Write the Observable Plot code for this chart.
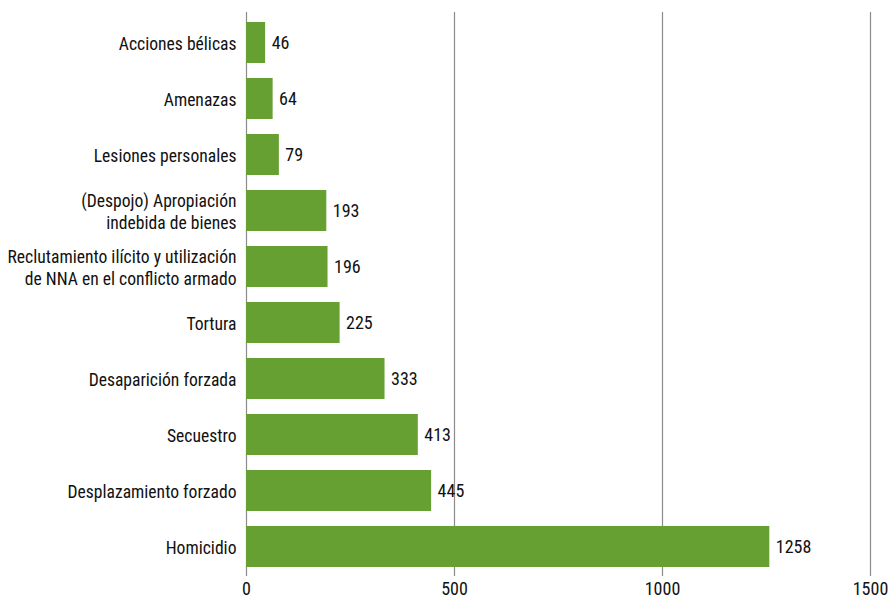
<!DOCTYPE html>
<html>
<head>
<meta charset="utf-8">
<script src="https://cdn.jsdelivr.net/npm/d3@7"></script>
<script src="https://cdn.jsdelivr.net/npm/@observablehq/plot@0.6"></script>
<style>
  html, body { margin: 0; padding: 0; background: #fff; }
  #chart svg { display: block; }
</style>
</head>
<body>
<div id="chart"></div>
<script>
const categories = [
  "Acciones bélicas",
  "Amenazas",
  "Lesiones personales",
  "(Despojo) Apropiación\nindebida de bienes",
  "Reclutamiento ilícito y utilización\nde NNA en el conflicto armado",
  "Tortura",
  "Desaparición forzada",
  "Secuestro",
  "Desplazamiento forzado",
  "Homicidio"
];
const values = [46, 64, 79, 193, 196, 225, 333, 413, 445, 1258];
const xTicks = [0, 500, 1000, 1500];

const data = categories.map((c, i) => ({category: c, value: values[i]}));
const font = "'Roboto Condensed', 'Liberation Sans Narrow', 'DejaVu Sans Condensed', 'Roboto', sans-serif";

const chart = Plot.plot({
  width: 889,
  height: 598,
  marginLeft: 246,
  marginRight: 19,
  marginTop: 12,
  marginBottom: 22,
  style: {fontFamily: font, fontSize: "17.6px", color: "#111", background: "#fff"},
  x: {domain: [0, 1500], ticks: xTicks, label: null},
  y: {domain: categories, paddingInner: 0.27, paddingOuter: 0.16, label: null},
  marks: [
    Plot.ruleX(xTicks, {stroke: "#8c8c8c", strokeWidth: 1.2}),
    Plot.barX(data, {y: "category", x: "value", fill: "#66a032"}),
    Plot.text(data, {y: "category", x: "value", text: d => String(d.value), textAnchor: "start", dx: 6, fontSize: 18, fill: "#111"}),
    Plot.axisY({tickSize: 0, tickPadding: 10, fontSize: 17.6, lineHeight: 1.27, fill: "#111"}),
    Plot.axisX({ticks: xTicks, tickSize: 0, tickPadding: 6, fontSize: 18, fill: "#111", tickFormat: d => String(d)})
  ]
});
document.getElementById("chart").appendChild(chart);
</script>
</body>
</html>
